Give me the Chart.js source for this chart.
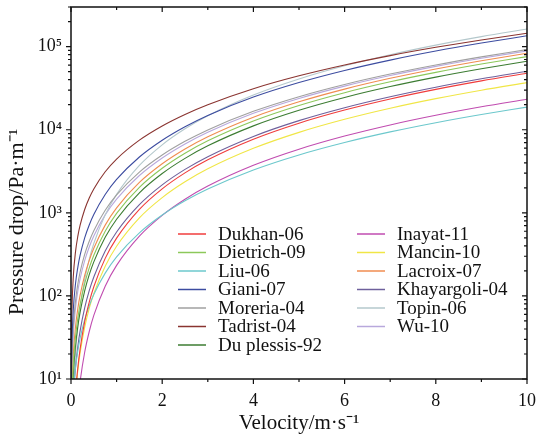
<!DOCTYPE html>
<html>
<head>
<meta charset="utf-8">
<script src="https://cdn.jsdelivr.net/npm/chart.js@4.4.0/dist/chart.umd.min.js"></script>
<style>
  html, body { margin: 0; padding: 0; background: #fff; }
  #wrap { width: 536px; height: 437px; }
</style>
</head>
<body>
<div id="wrap"><canvas id="chart" width="536" height="437"></canvas></div>
<script>
// velocity samples (m/s), shared by every curve
const velocity = [0.002, 0.005, 0.01, 0.02, 0.05, 0.1, 0.15, 0.2, 0.3, 0.4, 0.5, 0.75, 1, 1.5, 2, 2.5, 3, 4, 5, 6, 7, 8, 9, 10];

// pressure drop (Pa/m)
const dukhan     = [0.04, 0.11, 0.25, 0.59, 2.2, 6.8, 13.7, 23, 49, 84, 129, 283, 496, 1101, 1944, 3025, 4344, 7696, 12000, 17256, 23464, 30624, 38736, 47800];
const dietrich   = [0.5, 1.27, 2.57, 5.3, 14.3, 32.3, 54, 79.4, 141, 217, 308, 600, 984, 2027, 3436, 5212, 7356, 12744, 19600, 27924, 37716, 48976, 61704, 75900];
const liu        = [0.24, 0.6, 1.22, 2.47, 6.44, 13.8, 21.9, 31, 51.8, 76, 104, 188, 295, 574, 940, 1394, 1935, 3280, 4975, 7020, 9415, 12160, 15255, 18700];
const giani      = [2.6, 6.5, 13.1, 26.5, 68, 142, 222, 309, 500, 715, 955, 1661, 2520, 4695, 7480, 10875, 14880, 24720, 37000, 51720, 68880, 88480, 110520, 135000];
const moreria    = [1.6, 4.0, 8.1, 16.3, 42.1, 88.4, 139, 194, 316, 454, 610, 1073, 1640, 3090, 4960, 7250, 9960, 16640, 25000, 35040, 46760, 60160, 75240, 92000];
const tadrist    = [6.6, 16.6, 33.3, 66.9, 169, 343, 523, 709, 1097, 1507, 1940, 3119, 4438, 7496, 11112, 15288, 20022, 31168, 44550, 60168, 78022, 98112, 120438, 145000];
const duPlessis  = [0.38, 0.97, 1.97, 4.06, 11.1, 25.5, 43.1, 63.9, 115, 180, 257, 507, 838, 1743, 2972, 4525, 6402, 11128, 17150, 24468, 33082, 42992, 54198, 66700];
const inayat     = [0.001, 0.006, 0.023, 0.093, 0.58, 2.33, 5.24, 9.32, 21, 37.3, 58.3, 131, 233, 524, 932, 1456, 2097, 3728, 5825, 8388, 11417, 14912, 18873, 23300];
const mancin     = [0.06, 0.16, 0.34, 0.75, 2.4, 6.66, 12.7, 20.6, 41.9, 70.6, 106.5, 228, 396, 869, 1524, 2362, 3384, 5976, 9300, 13356, 18144, 23664, 29916, 36900];
const lacroix    = [0.7, 1.77, 3.58, 7.32, 19.5, 43, 70.5, 102, 177, 268, 375, 711, 1148, 2321, 3892, 5863, 8232, 14168, 21700, 30828, 41552, 53872, 67788, 83300];
const khayargoli = [0.18, 0.46, 0.95, 2.0, 5.74, 14, 24.7, 37.9, 71.7, 115.5, 169, 347, 587, 1253, 2168, 3331, 4743, 8312, 12875, 18432, 24983, 32528, 41067, 50600];
const topin      = [0.09, 0.24, 0.56, 1.45, 6.07, 20.3, 42.6, 73, 158, 276, 427, 945, 1666, 3719, 6584, 10263, 14754, 26176, 40850, 58776, 79954, 104384, 132066, 163000];
const wu         = [1.28, 3.2, 6.5, 13.1, 34.1, 72.2, 114.5, 161, 266, 388, 526, 944, 1464, 2814, 4576, 6750, 9336, 15744, 23800, 33504, 44856, 57856, 72504, 88800];

const seriesNames = ['Dukhan-06', 'Dietrich-09', 'Liu-06', 'Giani-07', 'Moreria-04', 'Tadrist-04', 'Du plessis-92',
                     'Inayat-11', 'Mancin-10', 'Lacroix-07', 'Khayargoli-04', 'Topin-06', 'Wu-10'];
const seriesValues = [dukhan, dietrich, liu, giani, moreria, tadrist, duPlessis,
                      inayat, mancin, lacroix, khayargoli, topin, wu];
const seriesColors = ['#f03c3c', '#8cc85a', '#6cc8cc', '#3c4ca0', '#a0a0a0', '#8a3430', '#3c7c32',
                      '#c04cb0', '#f0e646', '#f08c50', '#6e609c', '#b4c8cc', '#b8a8dc'];

const yTickValues = [10, 100, 1000, 10000, 100000];
const sup = {'1': '¹', '2': '²', '3': '³', '4': '⁴', '5': '⁵'};
const yTitle = 'Pressure drop/Pa·m⁻¹';

const FONT = "'Liberation Serif', 'Times New Roman', serif";

// frame, minor/major ticks, y title and the two-column legend inside the plot
const framePlugin = {
    id: 'framePlugin',
    afterDatasetsDraw(chart) {
        const {ctx, chartArea: a, scales: {x, y}} = chart;
        ctx.save();
        ctx.strokeStyle = '#111';
        ctx.lineWidth = 1.5;
        ctx.strokeRect(a.left, a.top, a.right - a.left, a.bottom - a.top);

        ctx.lineWidth = 1.2;
        ctx.beginPath();
        for (let v = 0; v <= 10; v++) {
            const px = x.getPixelForValue(v);
            const len = v % 2 === 0 ? 5 : 3;
            ctx.moveTo(px, a.bottom); ctx.lineTo(px, a.bottom + len);
            ctx.moveTo(px, a.top); ctx.lineTo(px, a.top + len);
        }
        for (let d = 10; d <= 100000; d *= 10) {
            for (let m = 1; m <= 9; m++) {
                const v = d * m;
                if (v > y.max) break;
                const py = y.getPixelForValue(v);
                const len = m === 1 ? 5 : 3;
                ctx.moveTo(a.left, py); ctx.lineTo(a.left - len, py);
                ctx.moveTo(a.right, py); ctx.lineTo(a.right - len, py);
            }
        }
        ctx.stroke();
        ctx.restore();
    },
    afterDraw(chart) {
        const {ctx} = chart;
        ctx.save();
        ctx.fillStyle = '#111';

        // y axis title
        ctx.save();
        ctx.font = "22px " + FONT;
        ctx.textAlign = 'center';
        ctx.textBaseline = 'middle';
        ctx.translate(17, 222);
        ctx.rotate(-Math.PI / 2);
        ctx.fillText(yTitle, 0, 0);
        ctx.restore();

        ctx.font = "19px " + FONT;
        ctx.textBaseline = 'middle';
        chart.data.datasets.forEach((ds, i) => {
            const col = i < 7 ? 0 : 1;
            const row = i < 7 ? i : i - 7;
            const x0 = col === 0 ? 178 : 357;
            const yy = 234 + row * 18.5;
            ctx.strokeStyle = ds.borderColor;
            ctx.lineWidth = 1.5;
            ctx.beginPath();
            ctx.moveTo(x0, yy);
            ctx.lineTo(x0 + 28, yy);
            ctx.stroke();
            ctx.fillText(ds.label, x0 + 40, yy + 1);
        });
        ctx.restore();
    }
};

const datasets = seriesNames.map((name, i) => ({
    label: name,
    data: velocity.map((v, j) => ({x: v, y: seriesValues[i][j]})),
    borderColor: seriesColors[i],
    borderWidth: 1.1,
    pointRadius: 0,
    fill: false,
    cubicInterpolationMode: 'monotone'
}));

new Chart(document.getElementById('chart'), {
    type: 'line',
    data: {datasets: datasets},
    options: {
        responsive: false,
        animation: false,
        devicePixelRatio: 1,
        layout: {padding: {top: 7, right: 9, left: 0, bottom: 0}},
        plugins: {legend: {display: false}, tooltip: {enabled: false}},
        scales: {
            x: {
                type: 'linear',
                min: 0,
                max: 10,
                afterFit: (s) => { s.height = 58; s.paddingLeft = 0; s.paddingRight = 0; },
                grid: {display: false},
                border: {display: false},
                ticks: {stepSize: 2, padding: 3, color: '#111', font: {family: FONT, size: 18}},
                title: {display: true, text: 'Velocity/m·s⁻¹', color: '#111',
                        font: {family: FONT, size: 21}, padding: {top: 0, bottom: 1}}
            },
            y: {
                type: 'logarithmic',
                min: 10,
                max: 300000,
                afterFit: (s) => { s.width = 71; s.paddingTop = 0; s.paddingBottom = 0; },
                afterBuildTicks: (s) => { s.ticks = yTickValues.map(v => ({value: v})); },
                grid: {display: false},
                border: {display: false},
                ticks: {
                    padding: 1,
                    color: '#111',
                    font: {family: FONT, size: 18},
                    callback: (v) => '10' + sup[String(Math.round(Math.log10(v)))]
                }
            }
        }
    },
    plugins: [framePlugin]
});
</script>
</body>
</html>
